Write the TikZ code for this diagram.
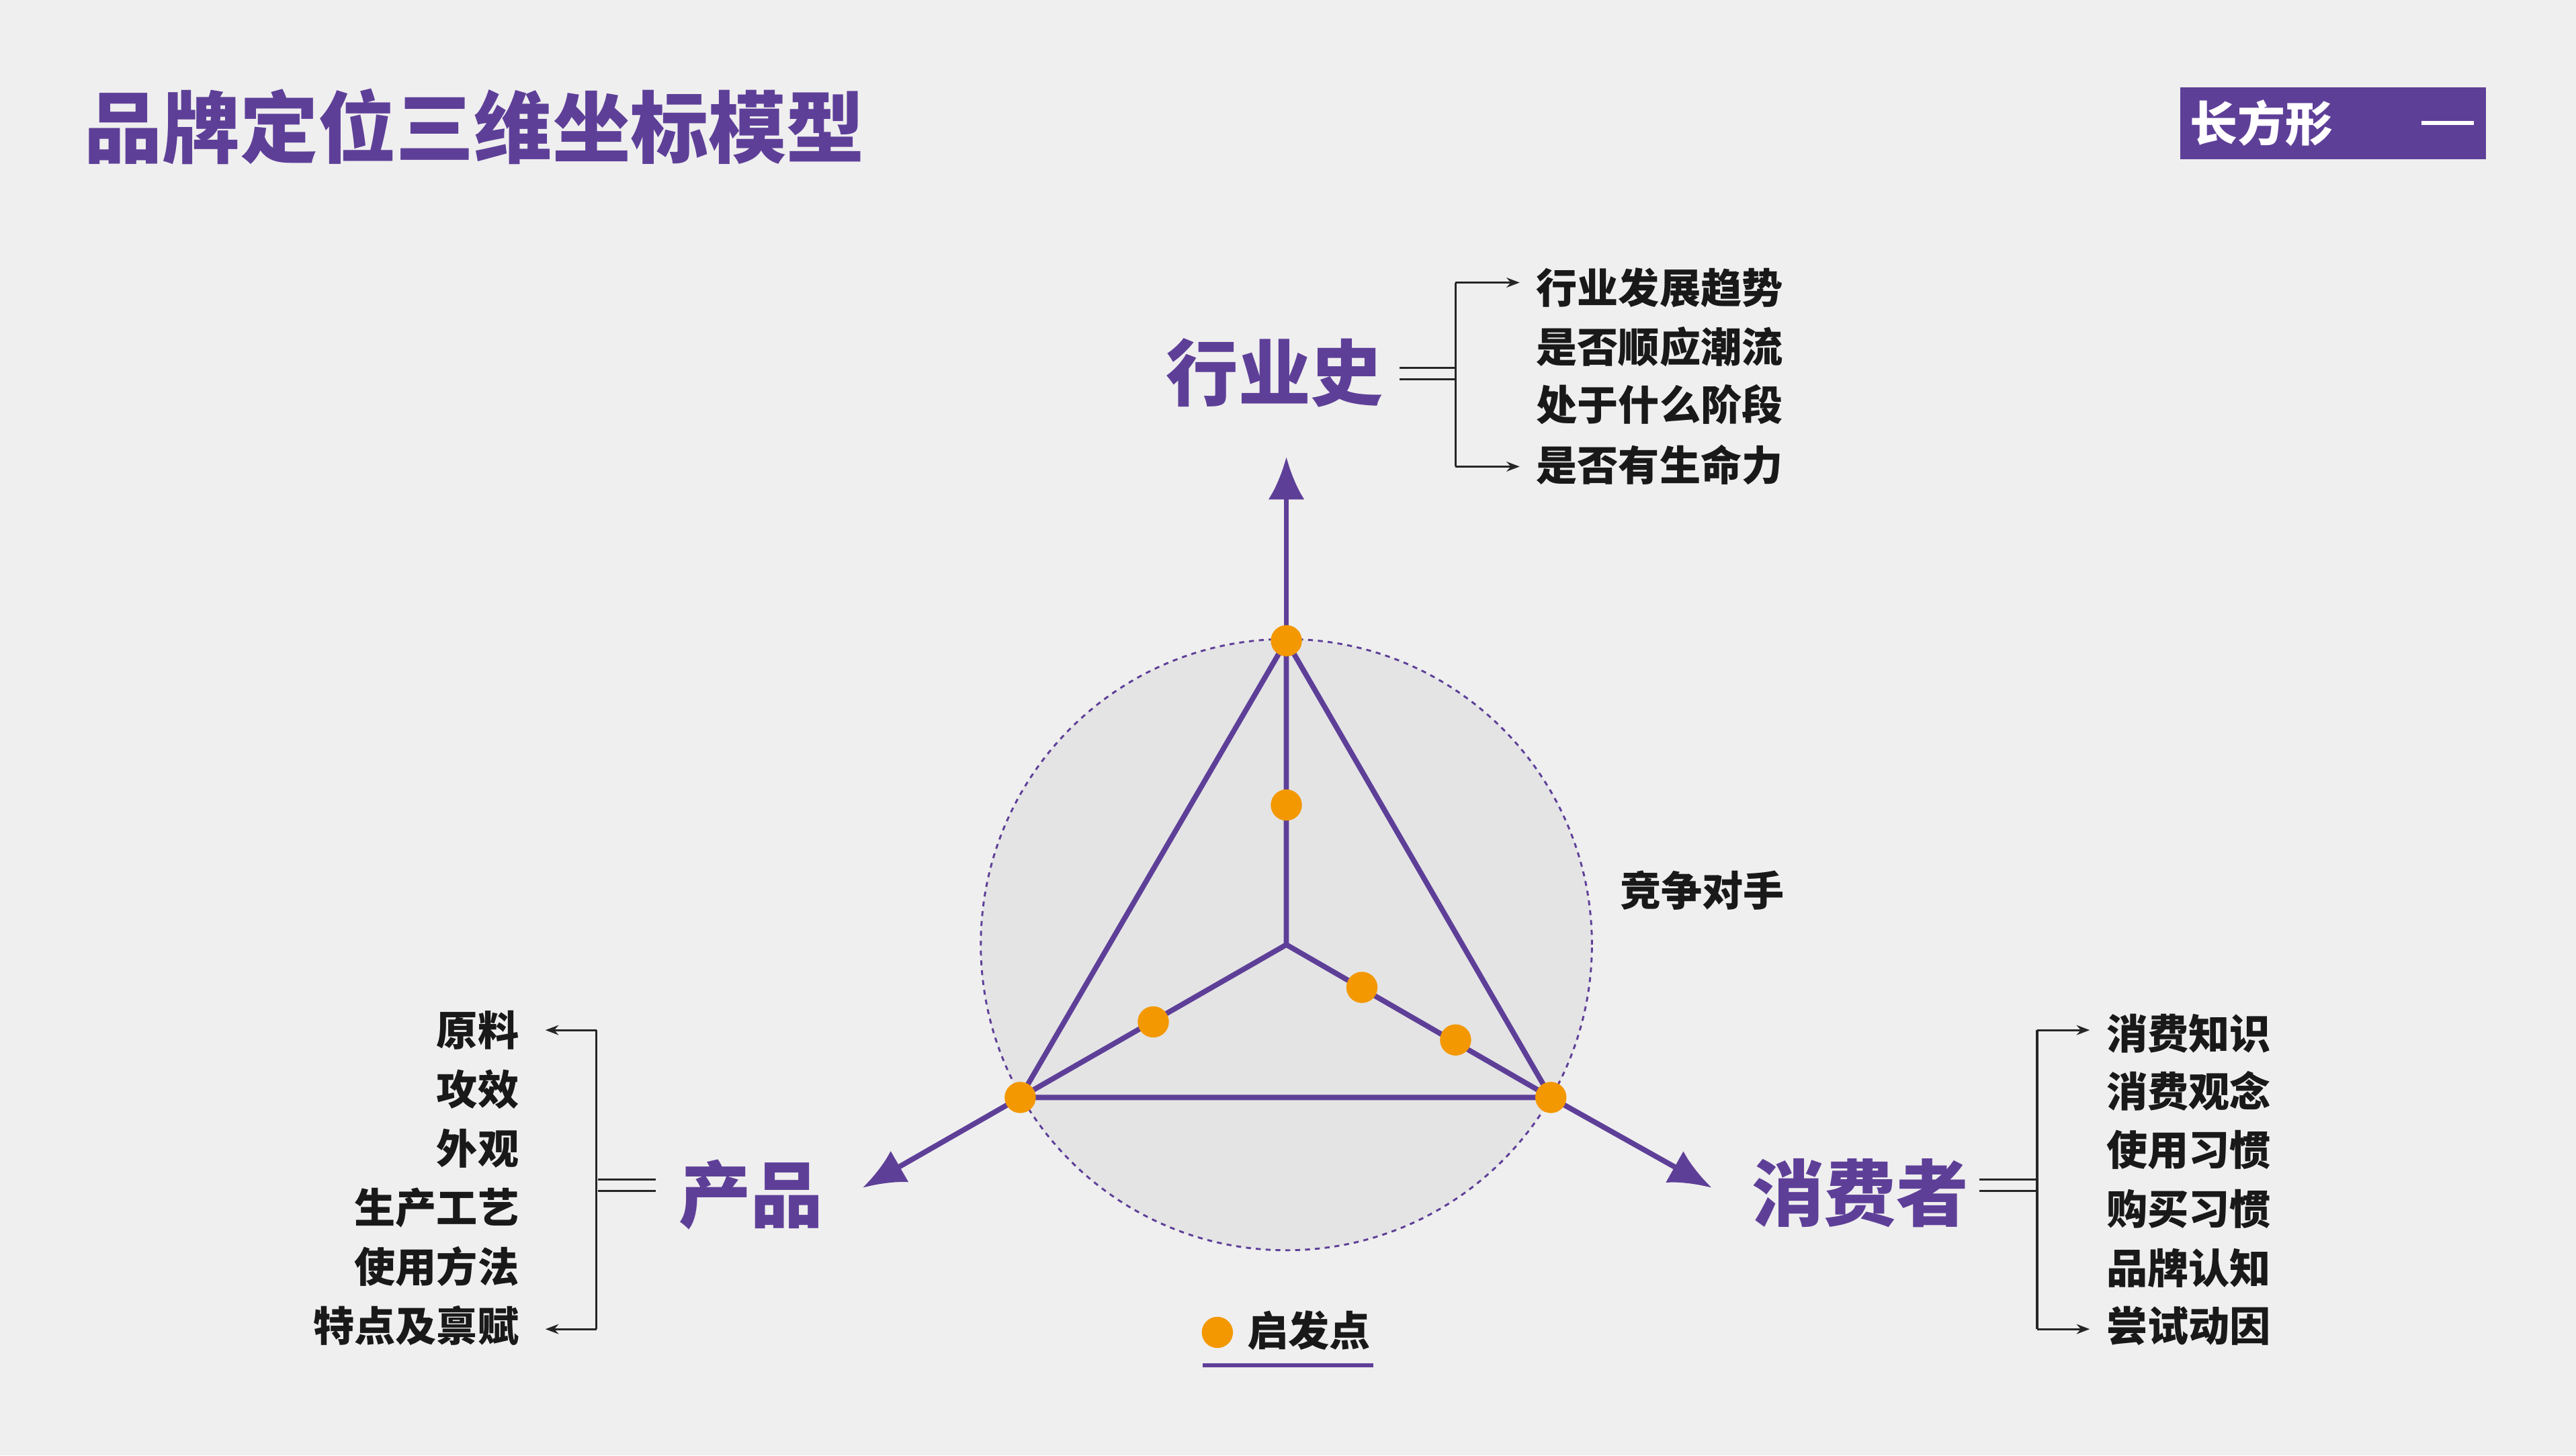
\documentclass[tikz,border=0pt]{standalone}
\usepackage{fontspec}
\setmainfont{Noto Sans CJK SC}
\usetikzlibrary{arrows.meta}
\definecolor{pur}{HTML}{5E3F98}
\definecolor{org}{HTML}{F39800}
\definecolor{bg}{HTML}{EFEFEF}
\definecolor{cfill}{HTML}{E4E4E5}
\tikzset{
 dot/.style={circle,fill=org,inner sep=0pt,minimum size=19pt},
 big/.style={text=pur,font=\fontsize{44}{44}\selectfont\bfseries,inner sep=0pt},
 item/.style={font=\fontsize{25}{25}\selectfont\bfseries,text=black!90,inner sep=0pt},
 edge/.style={pur,line width=3.2pt},
 axis/.style={pur,line width=3.2pt,-{Latex[length=26pt,width=22pt]}},
 br/.style={black!85,line width=1.3pt},
 bra/.style={br,-{Stealth[length=8pt,width=6pt]}}
}
\begin{document}
\begin{tikzpicture}[x=1pt,y=-1pt]
\fill[bg] (0,0) rectangle (1568,886);
\useasboundingbox (0,0) rectangle (1568,886);
\node[anchor=west,text=pur,font=\fontsize{47.5}{47.5}\selectfont\bfseries,inner sep=0pt] (title) at (51,77) {品牌定位三维坐标模型};
\fill[pur] (1327,53) rectangle (1513,97);
\node[anchor=west,text=white,font=\fontsize{29}{29}\selectfont\bfseries,inner sep=0pt] (box) at (1333,75) {长方形};
\draw[white,line width=2.5pt] (1474,75) -- (1506,75);
% circle
\node[circle,minimum size=372pt,fill=cfill,draw=pur,dash pattern=on 3pt off 3pt,line width=1.2pt,inner sep=0pt] (circ) at (783,575) {};
\coordinate (c) at (783,575);
\coordinate (t) at (783,390);
\coordinate (l) at (621,668);
\coordinate (r) at (944,668);
\coordinate (ta) at (783,278);
\coordinate (la) at (525,723);
\coordinate (ra) at (1042,723);
\draw[edge,line join=round] (t) -- (l) -- (r) -- cycle;
\draw[edge] (c) -- (t) (c) -- (l) (c) -- (r);
\draw[axis] (t) -- (ta);
\draw[axis] (l) -- (la);
\draw[axis] (r) -- (ra);
\foreach \p/\n in {{783,390}/d1,{783,490}/d2,{702,622}/d3,{621,668}/d4,{829,601}/d5,{886,633}/d6,{944,668}/d7}
  \node[dot] (\n) at (\p) {};
% top
\node[big,anchor=east] (hy) at (842,227) {行业史};
\draw[br] (852,224) -- (886,224) (852,231) -- (886,231);
\coordinate (tb1) at (886,172); \coordinate (tb2) at (886,284);
\coordinate (tb1e) at (925,172); \coordinate (tb2e) at (925,284);
\draw[br] (tb1) -- (tb2);
\draw[bra] (tb1) -- (tb1e);
\draw[bra] (tb2) -- (tb2e);
\foreach \t/\y [count=\i] in {行业发展趋势/175,是否顺应潮流/211,处于什么阶段/246,是否有生命力/283}
  \node[item,anchor=west] (ht\i) at (935,\y) {\t};
\node[item,anchor=west] (jz) at (986,542) {竞争对手};
% left
\node[big,anchor=west] (cp) at (413,727) {产品};
\draw[br] (364,718) -- (399,718) (364,725) -- (399,725);
\coordinate (lb1) at (363,627); \coordinate (lb2) at (363,809);
\coordinate (lb1e) at (332,627); \coordinate (lb2e) at (332,809);
\draw[br] (lb1) -- (lb2);
\draw[bra] (lb1) -- (lb1e);
\draw[bra] (lb2) -- (lb2e);
\foreach \t/\y [count=\i] in {原料/627,攻效/663,外观/699,生产工艺/735,使用方法/771,特点及禀赋/807}
  \node[item,anchor=east] (lt\i) at (316,\y) {\t};
% right
\node[big,anchor=west] (xf) at (1066,726) {消费者};
\draw[br] (1205,718) -- (1240,718) (1205,725) -- (1240,725);
\coordinate (rb1) at (1240,627); \coordinate (rb2) at (1240,809);
\coordinate (rb1e) at (1272,627); \coordinate (rb2e) at (1272,809);
\draw[br] (rb1) -- (rb2);
\draw[bra] (rb1) -- (rb1e);
\draw[bra] (rb2) -- (rb2e);
\foreach \t/\y [count=\i] in {消费知识/629,消费观念/664,使用习惯/700,购买习惯/736,品牌认知/772,尝试动因/807}
  \node[item,anchor=west] (rt\i) at (1282,\y) {\t};
% legend
\node[dot] (ld) at (741,811) {};
\node[item,anchor=west,font=\fontsize{25}{25}\selectfont\bfseries] (lg) at (759,810) {启发点};
\draw[pur,line width=2.5pt] (732,831) -- (836,831);
\end{tikzpicture}
\end{document}
